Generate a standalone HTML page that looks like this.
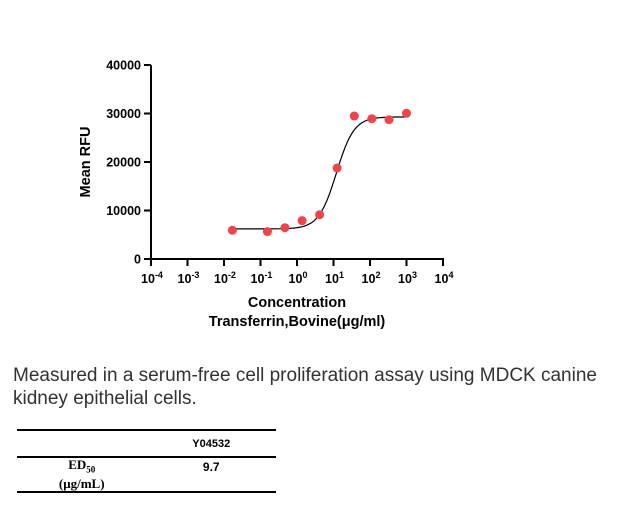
<!DOCTYPE html>
<html><head><meta charset="utf-8"><style>
body{margin:0;width:621px;height:509px;background:#fff;font-family:"Liberation Sans",Arial,sans-serif;position:relative;overflow:hidden}
.desc{position:absolute;left:13px;top:364px;font-size:19px;color:#333;line-height:23px;width:600px}
table{position:absolute;left:17px;top:429px;width:259px;border-collapse:collapse;font-size:11px;font-weight:bold}
td{text-align:center;padding:0}
</style></head><body>
<svg width="621" height="340" style="position:absolute;left:0;top:0" id="chart"></svg>
<div class="desc">Measured in a serum-free cell proliferation assay using MDCK canine kidney epithelial cells.</div>
<table>
<tr style="border-top:2px solid #000;border-bottom:2px solid #000;height:27px"><td style="width:50%"></td><td>Y04532</td></tr>
<tr style="border-bottom:2px solid #000;height:35px"><td style="font-family:'Liberation Serif',serif;font-size:13px;line-height:14px">ED<sub style="font-size:9px">50</sub><br>(μg/mL)</td><td style="vertical-align:top;padding-top:2px;font-size:12px">9.7</td></tr>
</table>
<script>
const logX=[-1.77,-0.81,-0.33,0.14,0.62,1.1,1.57,2.05,2.52,3.0];
const rfu=[5920,5650,6450,7900,9130,18760,29480,28930,28720,30040];
const fitParams=[6200,29300,1.08,1.8]; // bottom, top, logEC50, hill
const yTicks=[0,10000,20000,30000,40000];
const xTicks=[-4,-3,-2,-1,0,1,2,3,4];
const svg=document.getElementById('chart');
const NS='http://www.w3.org/2000/svg';
const X=v=>151+(v+4)*36.5, Y=v=>259-v/40000*194;
function mk(t,a,txt,p){const e=document.createElementNS(NS,t);for(const k in a)e.setAttribute(k,a[k]);if(txt!=null)e.textContent=txt;(p||svg).appendChild(e);return e;}
let e;
e=mk('line',{x1:151,y1:65,x2:151,y2:260,stroke:'#000','stroke-width':2});

e=mk('line',{x1:150,y1:259,x2:444,y2:259,stroke:'#000','stroke-width':2});

yTicks.forEach(t=>{
 e=mk('line',{x1:144,y1:Y(t),x2:151,y2:Y(t),stroke:'#000','stroke-width':2});
 
 e=mk('text',{x:141,y:Y(t)+4.5,'text-anchor':'end','font-size':12.5,'font-weight':'bold'},t);
 
});
xTicks.forEach(t=>{
 e=mk('line',{x1:X(t),y1:259,x2:X(t),y2:266,stroke:'#000','stroke-width':2});
 
 e=mk('text',{x:X(t)+1,y:283,'text-anchor':'middle','font-size':12.5,'font-weight':'bold'},null);
 
 mk('tspan',{},'10',e);
 mk('tspan',{dy:-5,'font-size':9},String(t),e);
});
const [b,tp,ec,h]=fitParams;let d='';
for(let v=logX[0];v<=logX[logX.length-1]+0.001;v+=0.02){const y=b+(tp-b)/(1+Math.pow(10,(ec-v)*h));d+=(d?'L':'M')+X(v).toFixed(1)+','+Y(y).toFixed(1);}
e=mk('path',{d:d,fill:'none',stroke:'#000','stroke-width':1.2});

logX.forEach((v,i)=>{
 e=mk('circle',{cx:X(v),cy:Y(rfu[i]),r:4.5,fill:'#f2434a'});
 
});
e=mk('text',{x:0,y:0,transform:'translate(90,162) rotate(-90)','text-anchor':'middle','font-size':14.5,'font-weight':'bold'},'Mean RFU');

e=mk('text',{x:297,y:307,'text-anchor':'middle','font-size':14.5,'font-weight':'bold'},'Concentration');

e=mk('text',{x:297,y:326,'text-anchor':'middle','font-size':14.5,'font-weight':'bold'},'Transferrin,Bovine(μg/ml)');

</script>
</body></html>
